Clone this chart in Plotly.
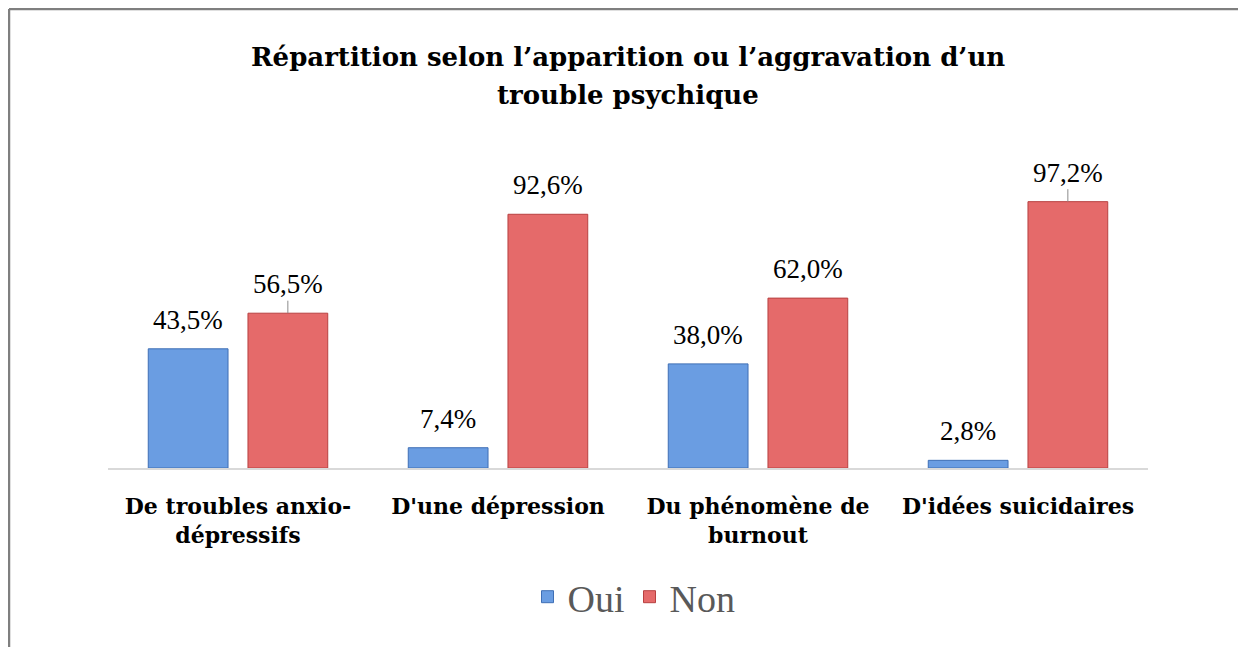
import plotly.graph_objects as go

categories = ["De troubles anxio-<br>dépressifs", "D'une dépression", "Du phénomène de<br>burnout", "D'idées suicidaires"]
oui = [43.5, 7.4, 38.0, 2.8]
non = [56.5, 92.6, 62.0, 97.2]
oui_labels = ["43,5%", "7,4%", "38,0%", "2,8%"]
non_labels = ["56,5%", "92,6%", "62,0%", "97,2%"]
non_leader = [True, False, False, True]

OFF = 8  # page body margin
W, H = 1246 - 2 * OFF, 655 - 2 * OFF
ML, MT = 108 - OFF, 194 - OFF
MR = W - (1148 - OFF)
MB = H - (468 - OFF)
PW, PH = W - ML - MR, H - MT - MB

BLUE = "#6a9de2"
RED = "#e56a6a"

fig = go.Figure()
fig.add_trace(go.Bar(name="Oui", x=categories, y=oui, marker=dict(color=BLUE, line=dict(color="#3f6fb5", width=1))))
fig.add_trace(go.Bar(name="Non", x=categories, y=non, marker=dict(color=RED, line=dict(color="#b84040", width=1))))

annotations = []
slot = PW / len(categories) * (1 - 0.233) / 2
for i, c in enumerate(categories):
    for vals, labs, shift, leaders in ((oui, oui_labels, -slot / 2, None), (non, non_labels, slot / 2, non_leader)):
        show = leaders is not None and leaders[i]
        annotations.append(dict(
            x=c, y=vals[i], xref="x", yref="y", text=labs[i], xshift=shift,
            showarrow=True, arrowhead=0, arrowwidth=1,
            arrowcolor="#8c8c8c" if show else "rgba(0,0,0,0)",
            ax=0, ay=-29, font=dict(family="Liberation Serif", size=27, color="#000000"),
        ))

def px_to_paper_y(py):
    # py in screen pixels
    return (H - MB - (py - OFF)) / PH

def px_to_paper_x(px):
    return (px - OFF - ML) / PW

TFONT = dict(family="DejaVu Serif", size=26, color="#000000", weight="bold")
annotations.append(dict(text="Répartition selon l’apparition ou l’aggravation d’un", x=0.5, y=px_to_paper_y(57),
                        xref="paper", yref="paper", showarrow=False, xanchor="center", yanchor="middle", font=TFONT))
annotations.append(dict(text="trouble psychique", x=0.5, y=px_to_paper_y(95),
                        xref="paper", yref="paper", showarrow=False, xanchor="center", yanchor="middle", font=TFONT))

shapes = [
    dict(type="line", xref="paper", yref="paper", x0=px_to_paper_x(9), x1=px_to_paper_x(1270),
         y0=px_to_paper_y(9), y1=px_to_paper_y(9), line=dict(color="#7f7f7f", width=2.5)),
    dict(type="line", xref="paper", yref="paper", x0=px_to_paper_x(9), x1=px_to_paper_x(9),
         y0=px_to_paper_y(9), y1=px_to_paper_y(680), line=dict(color="#7f7f7f", width=2.5)),
]

fig.update_layout(
    width=W, height=H,
    margin=dict(l=ML, r=MR, t=MT, b=MB),
    paper_bgcolor="white", plot_bgcolor="white",
    barmode="group", bargap=0.233, bargroupgap=0.2,
    showlegend=True,
    legend=dict(orientation="h", x=px_to_paper_x(634), xanchor="center", y=px_to_paper_y(597), yanchor="middle",
                font=dict(family="Liberation Serif", size=38, color="#595959"), itemwidth=30,
                tracegroupgap=0, itemclick=False),
    annotations=annotations,
    shapes=shapes,
    xaxis=dict(showline=True, linecolor="#d9d9d9", linewidth=2, ticks="", showgrid=False,
               tickfont=dict(family="DejaVu Serif", size=22, color="#000000", weight="bold"),
               ticklabelstandoff=18),
    yaxis=dict(range=[0, 100], visible=False, showgrid=False, zeroline=False),
)

fig.write_html("out.html")
